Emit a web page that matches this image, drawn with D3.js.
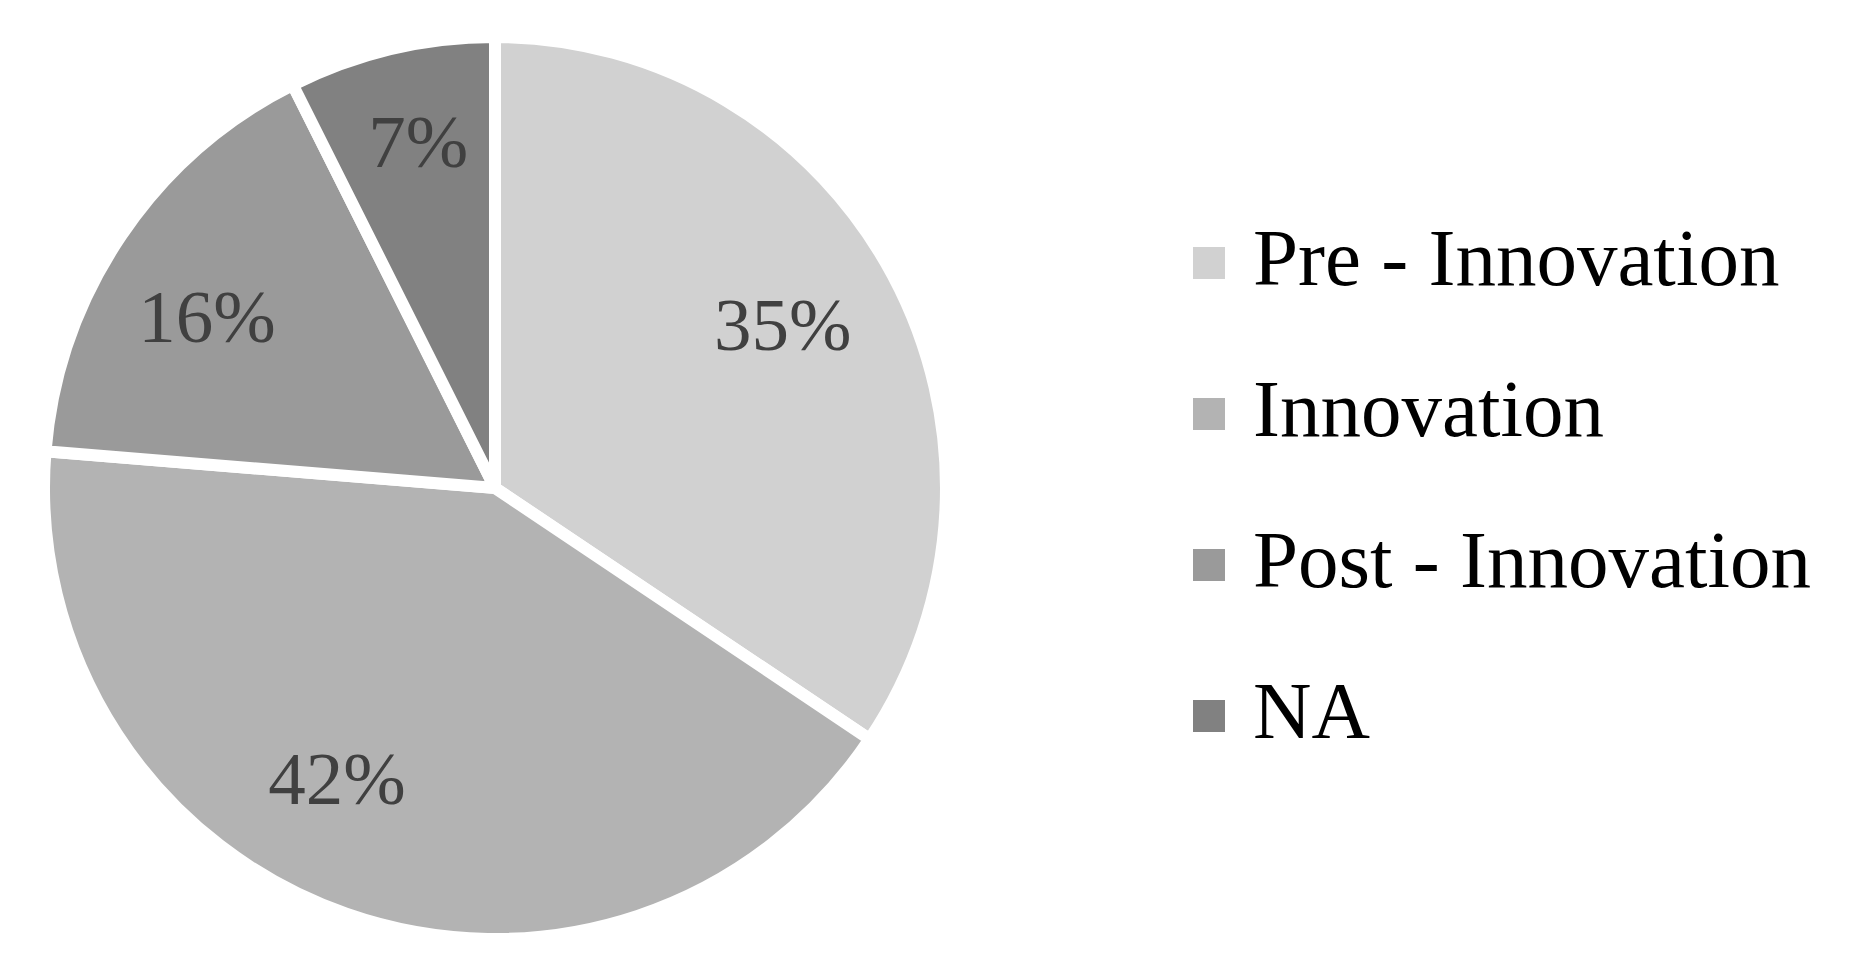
<!DOCTYPE html>
<html>
<head>
<meta charset="utf-8">
<script src="https://cdnjs.cloudflare.com/ajax/libs/d3/7.8.5/d3.min.js"></script>
<style>
  body { margin: 0; background: #fff; }
  svg text { font-family: "Palatino Linotype", "Book Antiqua", Palatino, "Liberation Serif", serif; }
</style>
</head>
<body>
<div id="chart"></div>
<script>
var width = 1857,
    height = 978;

// data
var categories = ["Pre - Innovation", "Innovation", "Post - Innovation", "NA"];
var shares = [34.4, 41.9, 16.3, 7.4];          // slice sizes as drawn
var labels = ["35%", "42%", "16%", "7%"];      // printed data labels
var colors = ["#d1d1d1", "#b3b3b3", "#9a9a9a", "#818181"];

var cx = 495, cy = 488, radius = 451;

// label placement (Excel "best fit" puts them a bit off the slice middle)
var labelTurn = [-1, 9, -3.7, 0.7];            // degrees
var labelDist = [0.73, 0.74, 0.74, 0.78];      // fraction of radius

var svg = d3.select("#chart").append("svg")
    .attr("width", width)
    .attr("height", height);

var color = d3.scaleOrdinal()
    .domain(categories)
    .range(colors);

var pie = d3.pie()
    .sort(null)
    .value(function(d, i){ return shares[i]; });

var arc = d3.arc()
    .innerRadius(0)
    .outerRadius(radius);

var g = svg.append("g")
    .attr("transform", "translate(" + cx + "," + cy + ")");

var slices = g.selectAll(".slice")
    .data(pie(categories))
    .enter()
    .append("g")
    .attr("class", "slice");

slices.append("path")
    .attr("d", arc)
    .attr("fill", function(d){ return color(d.data); })
    .attr("stroke", "#fff")
    .attr("stroke-width", 12)
    .attr("stroke-linejoin", "miter");

slices.append("text")
    .attr("transform", function(d, i){
      var a = (d.startAngle + d.endAngle) / 2 + labelTurn[i] * Math.PI / 180;
      var r = radius * labelDist[i];
      return "translate(" + (Math.sin(a) * r) + "," + (-Math.cos(a) * r) + ")";
    })
    .attr("text-anchor", "middle")
    .attr("dy", "0.3em")
    .attr("font-size", 75)
    .attr("fill", "#404040")
    .text(function(d, i){ return labels[i]; });

/* Legend */
var legend = svg.append("g")
    .attr("transform", "translate(1193,0)");

var rowY = d3.scalePoint()
    .domain(categories)
    .range([263, 716]);

var rows = legend.selectAll(".legendRow")
    .data(categories)
    .enter()
    .append("g")
    .attr("class", "legendRow")
    .attr("transform", function(d){ return "translate(0," + rowY(d) + ")"; });

rows.append("rect")
    .attr("x", 0)
    .attr("y", -16)
    .attr("width", 32)
    .attr("height", 32)
    .attr("fill", function(d){ return color(d); });

rows.append("text")
    .attr("x", 60)
    .attr("y", 22)
    .attr("font-size", 81)
    .attr("fill", "#000")
    .text(function(d){ return d; });
/* End legend */
</script>
</body>
</html>
